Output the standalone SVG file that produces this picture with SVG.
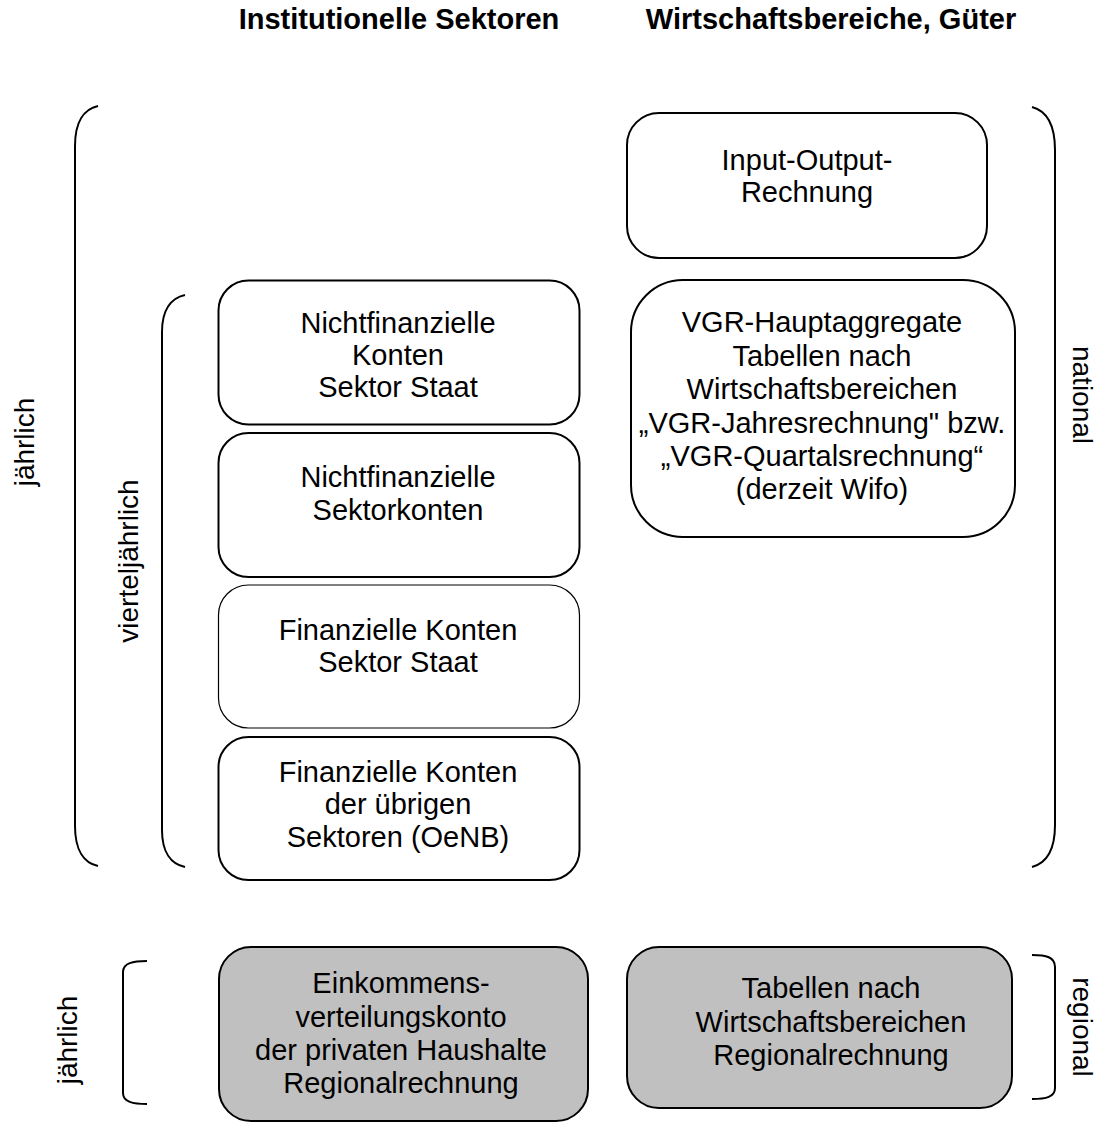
<svg xmlns="http://www.w3.org/2000/svg" width="1097" height="1124" viewBox="0 0 1097 1124">
<style>
text{font-family:"Liberation Sans",Arial,sans-serif;font-size:29px;fill:#000;text-anchor:middle}
.h{font-weight:bold}
.v{font-size:28px}
.box{fill:#fff;stroke:#000;stroke-width:2}
.thin{stroke-width:1.2}
.gray{fill:#c0c0c0}
.br{fill:none;stroke:#000;stroke-width:2}
</style>
<rect width="1097" height="1124" fill="#fff"/>
<g id="headers">
<text class="h" x="399" y="29">Institutionelle Sektoren</text>
<text class="h" x="831" y="29">Wirtschaftsbereiche, Güter</text>
</g>
<g id="brackets">
<path class="br" d="M98,106 C84,109 75,122 75,146 L75,826 C75,850 84,863 98,866"/>
<path class="br" d="M185,295 C171,298 162,310 162,332 L162,830 C162,852 171,864 185,867"/>
<path class="br" d="M147,961 C133,961 123,963 123,972 L123,1093 C123,1102 133,1104 147,1104"/>
<path class="br" d="M1032,107 C1047,111 1055,124 1055,150 L1055,825 C1055,850 1047,863 1032,867"/>
<path class="br" d="M1032,955 C1046,955 1055,957 1055,967 L1055,1088 C1055,1097 1046,1099 1032,1099"/>
</g>
<g id="labels">
<text class="v" transform="translate(34,442) rotate(-90)">jährlich</text>
<text class="v" transform="translate(138,561) rotate(-90)">vierteljährlich</text>
<text class="v" transform="translate(77,1040) rotate(-90)">jährlich</text>
<text class="v" transform="translate(1073,395) rotate(90)">national</text>
<text class="v" transform="translate(1073,1027) rotate(90)">regional</text>
</g>
<g id="node-io">
<rect class="box" x="627" y="113" width="360" height="145" rx="32"/>
<text x="807" y="170">Input-Output-</text>
<text x="807" y="202">Rechnung</text>
</g>
<g id="node-vgr">
<rect class="box" x="631" y="280" width="384" height="257" rx="52"/>
<text x="822" y="332">VGR-Hauptaggregate</text>
<text x="822" y="366">Tabellen nach</text>
<text x="822" y="399">Wirtschaftsbereichen</text>
<text x="822" y="433">„VGR-Jahresrechnung" bzw.</text>
<text x="822" y="466">„VGR-Quartalsrechnung“</text>
<text x="822" y="499">(derzeit Wifo)</text>
</g>
<g id="node-nfk-staat">
<rect class="box" x="218.5" y="280.5" width="361" height="144" rx="30"/>
<text x="398" y="333">Nichtfinanzielle</text>
<text x="398" y="365">Konten</text>
<text x="398" y="397">Sektor Staat</text>
</g>
<g id="node-nfk-sektor">
<rect class="box" x="218.5" y="433" width="361" height="144" rx="30"/>
<text x="398" y="487">Nichtfinanzielle</text>
<text x="398" y="520">Sektorkonten</text>
</g>
<g id="node-fk-staat">
<rect class="box thin" x="218.5" y="585" width="361" height="143" rx="30"/>
<text x="398" y="640">Finanzielle Konten</text>
<text x="398" y="672">Sektor Staat</text>
</g>
<g id="node-fk-uebrige">
<rect class="box" x="218.5" y="737" width="361" height="143" rx="30"/>
<text x="398" y="782">Finanzielle Konten</text>
<text x="398" y="814">der übrigen</text>
<text x="398" y="847">Sektoren (OeNB)</text>
</g>
<g id="node-einkommen">
<rect class="box gray" x="219" y="947" width="369" height="174" rx="32"/>
<text x="401" y="993">Einkommens-</text>
<text x="401" y="1027">verteilungskonto</text>
<text x="401" y="1060">der privaten Haushalte</text>
<text x="401" y="1093">Regionalrechnung</text>
</g>
<g id="node-tabellen">
<rect class="box gray" x="627" y="947" width="385" height="161" rx="32"/>
<text x="831" y="998">Tabellen nach</text>
<text x="831" y="1032">Wirtschaftsbereichen</text>
<text x="831" y="1065">Regionalrechnung</text>
</g>
<g id="connectors"></g>
</svg>
